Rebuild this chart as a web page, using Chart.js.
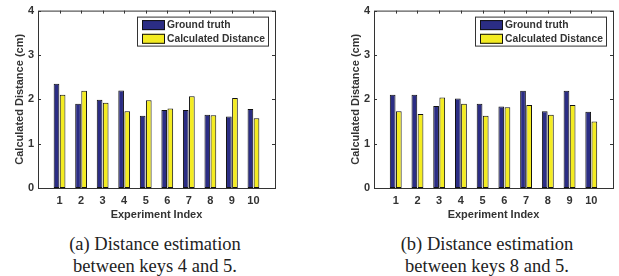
<!DOCTYPE html>
<html>
<head>
<meta charset="utf-8">
<script src="https://cdn.jsdelivr.net/npm/chart.js@4"></script>
<style>
  body { margin: 0; width: 619px; height: 276px; background: #fff; position: relative; overflow: hidden; }
  .panel { position: absolute; top: 0; }
  .caption {
    position: absolute; top: 233px; width: 310px; text-align: center;
    font-family: "Liberation Serif", "Times New Roman", serif; font-size: 18.5px;
    line-height: 22px; color: #222;
  }
</style>
</head>
<body>
<div class="panel" style="left:0px"><canvas id="chartA" width="283" height="230"></canvas></div>
<div class="panel" style="left:336px"><canvas id="chartB" width="283" height="230"></canvas></div>
<div class="caption" style="left:0px">(a) Distance estimation<br>between keys 4 and 5.</div>
<div class="caption" style="left:332px">(b) Distance estimation<br>between keys 8 and 5.</div>
<script>
const experiments = ["1", "2", "3", "4", "5", "6", "7", "8", "9", "10"];
const yTicks = [0, 1, 2, 3, 4];

// (a) keys 4 and 5
const truthA = [2.35, 1.90, 1.99, 2.20, 1.63, 1.76, 1.76, 1.65, 1.61, 1.78];
const calcA = [2.10, 2.19, 1.92, 1.73, 1.98, 1.79, 2.07, 1.64, 2.03, 1.57];

// (b) keys 8 and 5
const truthB = [2.10, 2.10, 1.85, 2.02, 1.90, 1.84, 2.19, 1.73, 2.19, 1.72];
const calcB = [1.73, 1.67, 2.04, 1.90, 1.63, 1.82, 1.87, 1.65, 1.87, 1.50];

const textColor = "#333";
const axisColor = "#333";
const font = "Liberation Sans, Arial, sans-serif";

// matlab-ish box with inward ticks on all four sides
const boxPlugin = {
  id: "box",
  afterDatasetsDraw(chart) {
    const { ctx, chartArea: ca, scales } = chart;
    ctx.save();
    ctx.strokeStyle = axisColor;
    ctx.lineWidth = 1;
    ctx.strokeRect(ca.left + 0.5, ca.top + 0.5, ca.right - ca.left, ca.bottom - ca.top);
    ctx.beginPath();
    scales.x.ticks.forEach((t, i) => {
      if (!t.label) return;
      const x = Math.round(scales.x.getPixelForTick(i)) + 0.5;
      ctx.moveTo(x, ca.top); ctx.lineTo(x, ca.top + 3);
    });
    scales.y.ticks.forEach((t) => {
      const y = Math.round(scales.y.getPixelForValue(t.value)) + 0.5;
      ctx.moveTo(ca.left, y); ctx.lineTo(ca.left + 3, y);
      ctx.moveTo(ca.right, y); ctx.lineTo(ca.right - 3, y);
    });
    ctx.stroke();

    // legend in the top right corner
    ctx.font = "bold 10.3px " + font;
    const ds = chart.data.datasets;
    const tw = Math.max(...ds.map((d) => ctx.measureText(d.label).width));
    const w = 5 + 23 + 2 + tw + 3;
    const right = ca.right - 7;
    const left = right - w;
    const top = ca.top + 6;
    ctx.fillStyle = "#fff";
    ctx.fillRect(left, top, w, 29);
    ctx.strokeStyle = axisColor;
    ctx.strokeRect(Math.round(left) + 0.5, top + 0.5, Math.round(w), 29);
    ds.forEach((d, i) => {
      const sy = top + 3.5 + i * 13.7;
      ctx.fillStyle = d.backgroundColor;
      ctx.fillRect(Math.round(left) + 5, sy, 23, 10);
      ctx.strokeStyle = "#111";
      ctx.strokeRect(Math.round(left) + 5.5, sy + 0.5, 22, 9);
      ctx.fillStyle = textColor;
      ctx.textBaseline = "middle";
      ctx.fillText(d.label, Math.round(left) + 30, sy + 5.5);
    });
    ctx.restore();
  },
};

function makeChart(id, truth, calc, padRight) {
  new Chart(document.getElementById(id), {
    type: "bar",
    data: {
      labels: ["", ...experiments, ""],
      datasets: [
        {
          label: "Ground truth",
          data: [null, ...truth, null],
          backgroundColor: "#2b2d84",
          borderColor: "#111",
          borderWidth: 1,
          borderSkipped: false,
          categoryPercentage: 0.566,
          barPercentage: 0.93,
        },
        {
          label: "Calculated Distance",
          data: [null, ...calc, null],
          backgroundColor: "#f4ec22",
          borderColor: "#111",
          borderWidth: 1,
          borderSkipped: false,
          categoryPercentage: 0.566,
          barPercentage: 0.93,
        },
      ],
    },
    options: {
      responsive: false,
      animation: false,
      layout: { padding: { top: 9, right: padRight, left: 0, bottom: 8 } },
      plugins: { legend: { display: false }, tooltip: { enabled: false } },
      scales: {
        x: {
          offset: false,
          grid: { display: false, drawTicks: false },
          border: { display: false },
          ticks: { color: textColor, font: { family: font, size: 11, weight: "bold" }, padding: 6, maxRotation: 0, autoSkip: false },
          title: { display: true, text: "Experiment Index", color: textColor, font: { family: font, size: 11, weight: "bold" }, padding: { top: 1, bottom: 0 } },
          afterFit: (s) => { s.height = 34; },
        },
        y: {
          min: 0,
          max: 4,
          afterBuildTicks: (s) => { s.ticks = yTicks.map((v) => ({ value: v })); },
          grid: { display: false, drawTicks: false },
          border: { display: false },
          ticks: { color: textColor, font: { family: font, size: 11, weight: "bold" }, padding: 4 },
          title: { display: true, text: "Calculated Distance (cm)", color: textColor, font: { family: font, size: 11, weight: "bold" }, padding: { top: 13, bottom: 0 } },
          afterFit: (s) => { s.width = 38; },
        },
      },
    },
    plugins: [boxPlugin],
  });
}

makeChart("chartA", truthA, calcA, 8);
makeChart("chartB", truthB, calcB, 6);
</script>
</body>
</html>
